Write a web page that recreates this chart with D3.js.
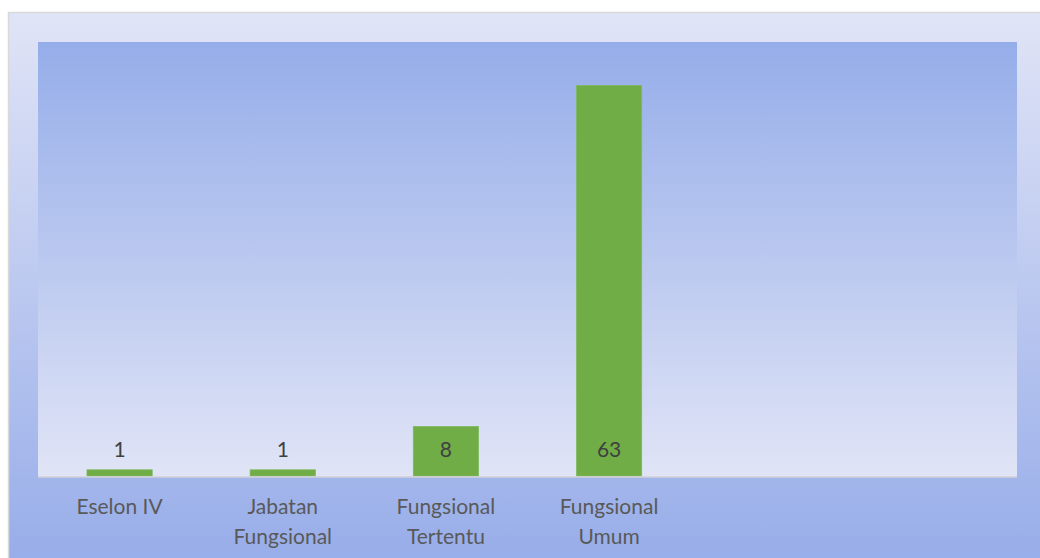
<!DOCTYPE html>
<html><head><meta charset="utf-8">
<script src="https://cdn.jsdelivr.net/npm/d3@7"></script>
<style>html,body{margin:0;padding:0;background:#fff;}svg{display:block;}</style>
</head><body>
<svg id="c" width="1040" height="558"></svg>
<script>
const categories = [["Eselon IV"], ["Jabatan", "Fungsional"], ["Fungsional", "Tertentu"], ["Fungsional", "Umum"], [""], [""]];
const values = [1, 1, 8, 63, null, null];
const yMax = 70;

const svg = d3.select("#c");
const defs = svg.append("defs");
const g1 = defs.append("linearGradient").attr("id","outerG").attr("x1",0).attr("y1",0).attr("x2",0).attr("y2",1);
g1.append("stop").attr("offset","0%").attr("stop-color","#e0e4f6");
g1.append("stop").attr("offset","100%").attr("stop-color","#96ace9");
const g2 = defs.append("linearGradient").attr("id","innerG").attr("x1",0).attr("y1",0).attr("x2",0).attr("y2",1);
g2.append("stop").attr("offset","0%").attr("stop-color","#95ade9");
g2.append("stop").attr("offset","100%").attr("stop-color","#e0e4f6");

svg.append("rect").attr("x",8.5).attr("y",12.5).attr("width",1040).attr("height",560)
  .attr("fill","url(#outerG)").attr("stroke","#d9d9d9").attr("stroke-width",1.5);

const L = 38, R = 1017, T = 42, B = 477;
svg.append("rect").attr("x",L).attr("y",T).attr("width",R-L).attr("height",B-T).attr("fill","url(#innerG)");

const x = d3.scaleBand().domain(d3.range(categories.length)).range([L, R]).padding(0);
const y = d3.scaleLinear().domain([0, yMax]).range([B - 1, T]);
const bw = x.bandwidth() * 0.4;

const data = values.map((v,i)=>({i, v})).filter(d => d.v != null);
svg.selectAll("rect.bar").data(data).join("rect").attr("class","bar")
  .attr("x", d => x(d.i) + (x.bandwidth()-bw)/2)
  .attr("y", d => y(d.v))
  .attr("width", bw)
  .attr("height", d => y(0) - y(d.v))
  .attr("fill","#70ad47").attr("stroke","#80b85c").attr("stroke-width",0.75);

svg.append("line").attr("x1",L).attr("x2",R).attr("y1",B).attr("y2",B)
  .attr("stroke","#d0d0d4").attr("stroke-width",1.5);

const font = "Lato, 'Open Sans', sans-serif";
svg.selectAll("text.val").data(data).join("text").attr("class","val")
  .attr("x", d => x(d.i) + x.bandwidth()/2)
  .attr("y", 457)
  .attr("text-anchor","middle")
  .attr("font-family", font).attr("font-size", 21)
  .attr("fill","#404040")
  .text(d => d.v);

categories.forEach((lines, i) => {
  const t = svg.append("text").attr("text-anchor","middle")
    .attr("font-family", font).attr("font-size", 21).attr("fill","#595959");
  lines.forEach((s, k) => {
    t.append("tspan").attr("x", x(i) + x.bandwidth()/2).attr("y", 514 + k*30).text(s);
  });
});
</script>
</body></html>
